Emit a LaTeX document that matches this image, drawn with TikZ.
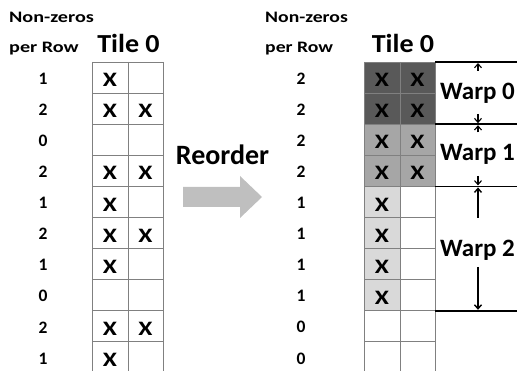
\documentclass[tikz,border=0pt]{standalone}
\usepackage{fontspec}
\setmainfont{Carlito}
\usetikzlibrary{arrows.meta}
\definecolor{gridc}{HTML}{808080}
\definecolor{darkc}{HTML}{595959}
\definecolor{midc}{HTML}{A6A6A6}
\definecolor{lightc}{HTML}{D9D9D9}
\definecolor{arrc}{HTML}{BFBFBF}
\tikzset{
  hdr/.style={font=\bfseries\fontsize{16}{18}\selectfont, anchor=base west, inner sep=0pt},
  tile/.style={font=\bfseries\fontsize{26}{28}\selectfont, anchor=base, inner sep=0pt},
  num/.style={font=\bfseries\fontsize{17.5}{19}\selectfont, inner sep=0pt},
  xmark/.style={font=\bfseries\fontsize{20.5}{22}\selectfont, inner sep=0pt},
  warp/.style={font=\bfseries\fontsize{25}{27}\selectfont, anchor=base west, inner sep=0pt},
  cellline/.style={draw=gridc, line width=0.8pt},
  warpline/.style={line width=1.5pt},
  warparrow/.style={line width=1.1pt, -{Straight Barb[length=4pt,width=7pt]}},
}
\newcommand{\wx}{\scalebox{1.25}[1]{X}}
\begin{document}
\begin{tikzpicture}[x=1pt,y=-1pt]
\useasboundingbox (0,0) rectangle (517,371);
% headers
\node[hdr] (nzl) at (9,22.3) {\scalebox{1.26}[1]{Non-zeros}};
\node[hdr] (prl) at (9,52.5) {\scalebox{1.26}[1]{per Row}};
\node[tile] (tl) at (128.5,53) {\scalebox{1.08}[1]{Tile 0}};
\node[hdr] (nzr) at (265,22.3) {\scalebox{1.23}[1]{Non-zeros}};
\node[hdr] (prr) at (265,52.5) {\scalebox{1.23}[1]{per Row}};
\node[tile] (tr) at (403,53) {\scalebox{1.08}[1]{Tile 0}};
% right shading
\fill[darkc] (364,62) rectangle (435,124.2);
\fill[midc] (364,124.2) rectangle (435,186.4);
\fill[lightc] (364,186.4) rectangle (400,310.8);
% left grid
\foreach \i in {0,...,9} {
  \draw[cellline] (92,62+31.1*\i) -- (163,62+31.1*\i);
}
\draw[cellline] (92,62) -- (92,371);
\draw[cellline] (128,62) -- (128,371);
\draw[cellline] (163,62) -- (163,371);
% right grid
\foreach \i in {0,...,9} {
  \draw[cellline] (364,62+31.1*\i) -- (435,62+31.1*\i);
}
\draw[cellline] (364,62) -- (364,371);
\draw[cellline] (400,62) -- (400,371);
\draw[cellline] (435,62) -- (435,371);
% left numbers and marks
\foreach \n/\a/\b [count=\i from 0] in {1/1/0,2/1/1,0/0/0,2/1/1,1/1/0,2/1/1,1/1/0,0/0/0,2/1/1,1/1/0} {
  \node[num] (ln\i) at (43,78.5+31.1*\i) {\n};
  \ifnum\a=1 \node[xmark] (la\i) at (110,80+31.1*\i) {\wx}; \fi
  \ifnum\b=1 \node[xmark] (lb\i) at (145.5,80+31.1*\i) {\wx}; \fi
}
% right numbers and marks
\foreach \n/\a/\b [count=\i from 0] in {2/1/1,2/1/1,2/1/1,2/1/1,1/1/0,1/1/0,1/1/0,1/1/0,0/0/0,0/0/0} {
  \node[num] (rn\i) at (301,78.5+31.1*\i) {\n};
  \ifnum\a=1 \node[xmark] (ra\i) at (382,80+31.1*\i) {\wx}; \fi
  \ifnum\b=1 \node[xmark] (rb\i) at (417.5,80+31.1*\i) {\wx}; \fi
}
% reorder arrow
\node[font=\bfseries\fontsize{28}{30}\selectfont, anchor=base, inner sep=0pt] (reo) at (222.5,165) {Reorder};
\fill[arrc] (183,187) -- (240,187) -- (240,176) -- (262,197) -- (240,218) -- (240,207) -- (183,207) -- cycle;
% warp lines
\draw[warpline] (435,62) -- (517,62);
\draw[warpline] (435,124.2) -- (517,124.2);
\draw[warpline] (435,186.4) -- (517,186.4);
\draw[warpline] (435,310.8) -- (517,310.8);
% warp labels
\node[warp] (w0) at (440,100) {Warp 0};
\node[warp] (w1) at (440,161) {Warp 1};
\node[warp] (w2) at (440,257) {Warp 2};
% warp arrows
\coordinate (a0s) at (478,71); \coordinate (a0e) at (478,63);
\coordinate (b0s) at (478,114); \coordinate (b0e) at (478,123.2);
\coordinate (a1s) at (478,132.5); \coordinate (a1e) at (478,125.2);
\coordinate (b1s) at (478,176); \coordinate (b1e) at (478,185.4);
\coordinate (a2s) at (478,218); \coordinate (a2e) at (478,187.4);
\coordinate (b2s) at (478,267); \coordinate (b2e) at (478,309.8);
\draw[warparrow] (a0s) -- (a0e);
\draw[warparrow] (b0s) -- (b0e);
\draw[warparrow] (a1s) -- (a1e);
\draw[warparrow] (b1s) -- (b1e);
\draw[warparrow, line width=1.4pt] (a2s) -- (a2e);
\draw[warparrow, line width=1.4pt] (b2s) -- (b2e);
\end{tikzpicture}
\end{document}
